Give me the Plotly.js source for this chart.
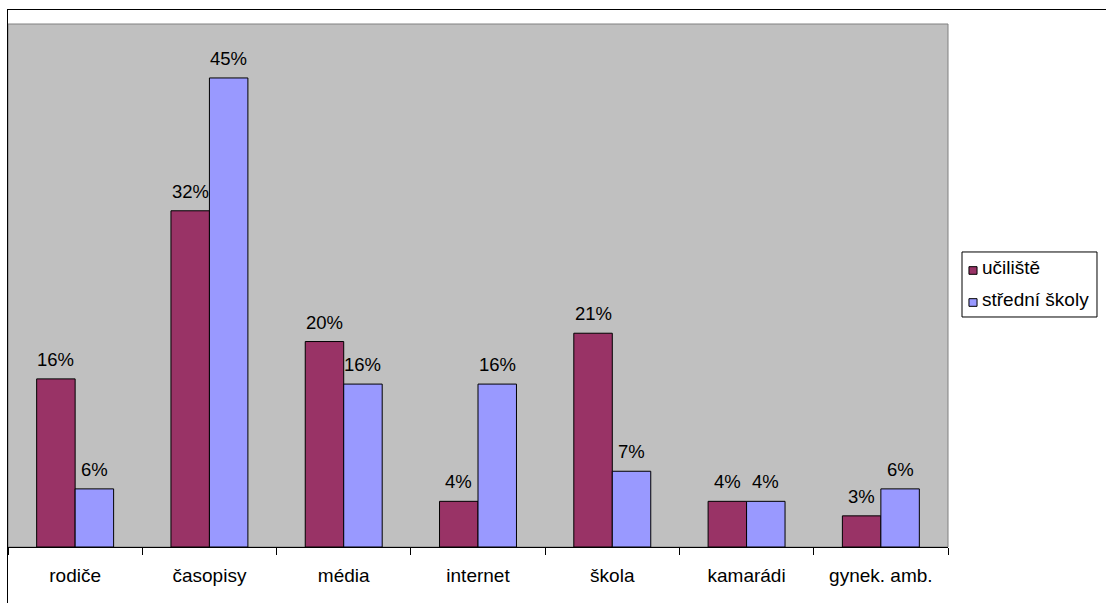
<!DOCTYPE html>
<html>
<head>
<meta charset="utf-8">
<script src="https://cdn.plot.ly/plotly-3.0.1.min.js"></script>
<style>
html,body{margin:0;padding:0;background:#fff;overflow:hidden;}
#chart{position:absolute;left:0;top:0;width:1106px;height:603px;}
#frame{position:absolute;left:7px;top:9px;width:1300px;height:800px;border:1px solid #000;pointer-events:none;}
</style>
</head>
<body>
<div id="chart"></div>
<div id="frame"></div>
<script>
const categories = ["rodiče", "časopisy", "média", "internet", "škola", "kamarádi", "gynek. amb."];
const seriesNames = ["učiliště", "střední školy"];
const uciliste = [16.2, 32.4, 19.8, 4.4, 20.6, 4.4, 3.0];
const stredniSkoly = [5.6, 45.2, 15.7, 15.7, 7.3, 4.4, 5.6];
const colors = ["#993366", "#9999FF"];

const FONT = "Liberation Sans, Arial, sans-serif";
const seriesValues = [uciliste, stredniSkoly];

const traces = seriesValues.map((vals, i) => ({
  type: "bar",
  name: seriesNames[i],
  x: categories,
  y: vals,
  marker: {color: colors[i], line: {color: "#000000", width: 1}},
  hoverinfo: "none",
  showlegend: false
}));

const annotations = [];
seriesValues.forEach((vals, i) => {
  vals.forEach((v, j) => {
    annotations.push({
      x: categories[j], y: v, xref: "x", yref: "y",
      text: Math.round(v) + "%",
      showarrow: false,
      xshift: i === 0 ? -19.2 : 19.2,
      yanchor: "bottom", yshift: 7,
      font: {family: FONT, size: 18.5, color: "#000"}
    });
  });
});

// manual legend (box, swatches, labels) in paper coordinates
const legendBox = {x0: 1.0149, x1: 1.1585, y0: 0.4398, y1: 0.5641};
const legendRows = [
  {sy0: 0.5214, sy1: 0.5360, ty: 0.5335},
  {sy0: 0.4602, sy1: 0.4748, ty: 0.4723}
];
const shapes = [
  {type: "rect", xref: "paper", yref: "paper", x0: 0, x1: 1, y0: 0, y1: 1,
   line: {color: "#808080", width: 1}, layer: "below"},
  {type: "rect", xref: "paper", yref: "paper",
   x0: legendBox.x0, x1: legendBox.x1, y0: legendBox.y0, y1: legendBox.y1,
   line: {color: "#000", width: 1}, fillcolor: "#fff"}
];
legendRows.forEach((r, i) => {
  shapes.push({type: "rect", xref: "paper", yref: "paper",
    x0: 1.0223, x1: 1.0309, y0: r.sy0, y1: r.sy1,
    line: {color: "#000", width: 1}, fillcolor: colors[i]});
  annotations.push({xref: "paper", yref: "paper", x: 1.0340, y: r.ty,
    xanchor: "left", yanchor: "middle", showarrow: false,
    text: seriesNames[i], font: {family: FONT, size: 19, color: "#000"}});
});

const layout = {
  width: 1106, height: 603,
  margin: {l: 8, r: 158, t: 24, b: 56, pad: 0},
  paper_bgcolor: "#ffffff",
  plot_bgcolor: "#C0C0C0",
  barmode: "group",
  bargap: 0.427,
  bargroupgap: 0,
  showlegend: false,
  font: {family: FONT, size: 18, color: "#000"},
  xaxis: {
    type: "category",
    showline: true, linecolor: "#000", linewidth: 1,
    ticks: "outside", tickson: "boundaries", ticklen: 7, tickcolor: "#000", tickwidth: 1,
    ticklabelstandoff: 11,
    showgrid: false, zeroline: false,
    tickfont: {family: FONT, size: 19, color: "#000"},
    fixedrange: true
  },
  yaxis: {
    range: [0, 50.4],
    showgrid: false, zeroline: false, showline: false,
    showticklabels: false, ticks: "",
    fixedrange: true
  },
  shapes: shapes,
  annotations: annotations
};

Plotly.newPlot("chart", traces, layout, {displayModeBar: false, staticPlot: true});
</script>
</body>
</html>
